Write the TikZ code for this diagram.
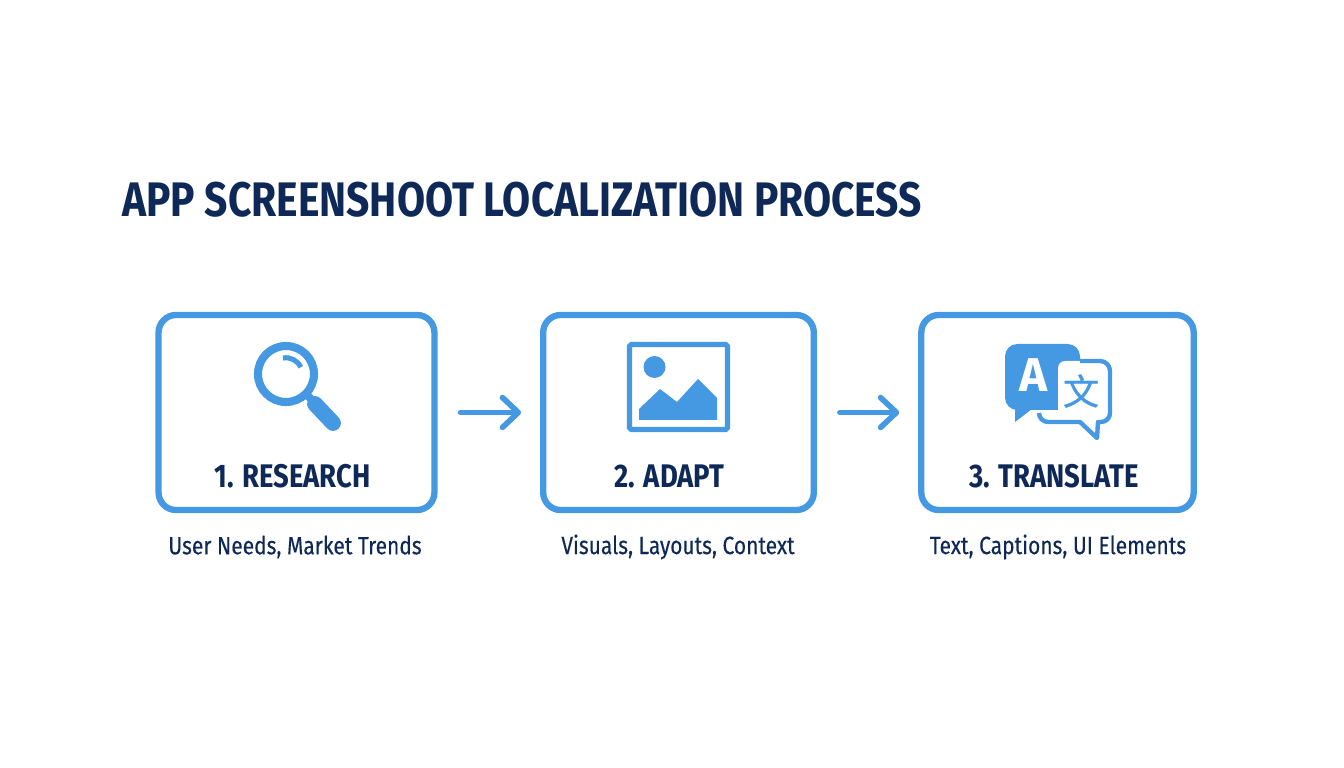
\documentclass[tikz,border=0pt]{standalone}
\usepackage{fontspec}
\usepackage{xcolor}
\setmainfont[FakeStretch=0.84]{Fira Sans}
\newfontfamily\plainsans{Fira Sans}
\newfontfamily\cjk{Noto Sans CJK SC}
\usetikzlibrary{arrows.meta}
\definecolor{stepblue}{HTML}{4599E2}
\definecolor{navy}{HTML}{0E2857}
\tikzset{
    stepbox/.style={draw=stepblue, line width=3.6pt, rounded corners=10pt, fill=white, minimum width=157pt, minimum height=111pt, inner sep=0pt},
    steptitle/.style={text=navy, font=\fontsize{18.6}{20}\selectfont\bfseries},
    stepnote/.style={text=navy, font=\fontsize{14.2}{16}\selectfont\mdseries\addfontfeature{FakeBold=0.25}},
    flowarrow/.style={draw=stepblue, line width=3.2pt, line cap=round, -{Straight Barb[length=9pt, width=17pt, round]}}
}
\begin{document}
\begin{tikzpicture}[x=0.2mm, y=-0.2mm]
    \useasboundingbox (0,0) rectangle (1344,768);
    \fill[white] (0,0) rectangle (1344,768);

    % Heading
    \node[anchor=west, inner sep=0pt, text=navy, font=\fontsize{27.6}{32}\selectfont\bfseries] (heading) at (122,200) {APP SCREENSHOOT LOCALIZATION PROCESS};

    % Boxes
    \node[stepbox] (research) at (296.5,412.5) {};
    \node[stepbox, minimum width=154pt] (adapt) at (678.5,412.5) {};
    \node[stepbox, minimum width=155pt] (translate) at (1057.5,412.5) {};

    % Arrows
    \draw[flowarrow, shorten <=23*0.5669pt, shorten >=19*0.5669pt] (research) -- (adapt);
    \draw[flowarrow, shorten <=23*0.5669pt, shorten >=19*0.5669pt] (adapt) -- (translate);

    % Magnifier
    \draw[stepblue, line width=4.6pt] (286,374) circle (28);
    \draw[stepblue, line width=2.9pt] (283,358) arc[start angle=-100, end angle=-25, radius=16.5];
    \draw[stepblue, line width=4.6pt] (306,394) -- (316,404);
    \draw[stepblue, line width=9pt, line cap=round] (315,404) -- (333,423);

    % Picture
    \draw[stepblue, line width=2.9pt, rounded corners=1pt] (629.5,344.5) rectangle (727.5,429.5);
    \fill[stepblue] (654.5,367) circle (11);
    \fill[stepblue] (639,420) -- (639,409) -- (660,389) -- (677,402) -- (698,379) -- (717,398) -- (717,420) -- cycle;

    % Speech bubbles
    \fill[stepblue, rounded corners=7pt] (1005,344) -- (1080,344) -- (1080,410) -- (1005,410) -- cycle;
    \fill[stepblue] (1015,400) -- (1015,422) -- (1032,409) -- cycle;
    \fill[white, rounded corners=4pt] (1058,361) -- (1108,361) -- (1108,420) -- (1058,420) -- cycle;
    \fill[white] (1058,412) rectangle (1080,422);
    \draw[stepblue, line width=2.5pt, line join=round] (1080,361) -- (1100,361) arc[start angle=-90, end angle=0, radius=10] -- (1110,413) arc[start angle=0, end angle=90, radius=9] -- (1098,422) -- (1097,438) -- (1080,422) -- (1048,422) arc[start angle=90, end angle=180, radius=9];
    \node[text=white, inner sep=0pt, font=\fontsize{27}{30}\plainsans\bfseries] (letterA) at (1033,375) {A};
    \node[text=stepblue, inner sep=0pt, font=\fontsize{20.5}{22}\cjk\addfontfeature{FakeBold=0.8}] (letterW) at (1081,391) {文};

    % Labels
    \node[steptitle] (researchtitle) at (292.5,476) {1. RESEARCH};
    \node[steptitle] (adapttitle) at (669.5,476) {2. ADAPT};
    \node[steptitle] (translatetitle) at (1054,476) {3. TRANSLATE};
    \node[stepnote] (researchnote) at (295,547) {User Needs, Market Trends};
    \node[stepnote] (adaptnote) at (678,547) {Visuals, Layouts, Context};
    \node[stepnote] (translatenote) at (1058,547) {Text, Captions, UI Elements};
\end{tikzpicture}
\end{document}
